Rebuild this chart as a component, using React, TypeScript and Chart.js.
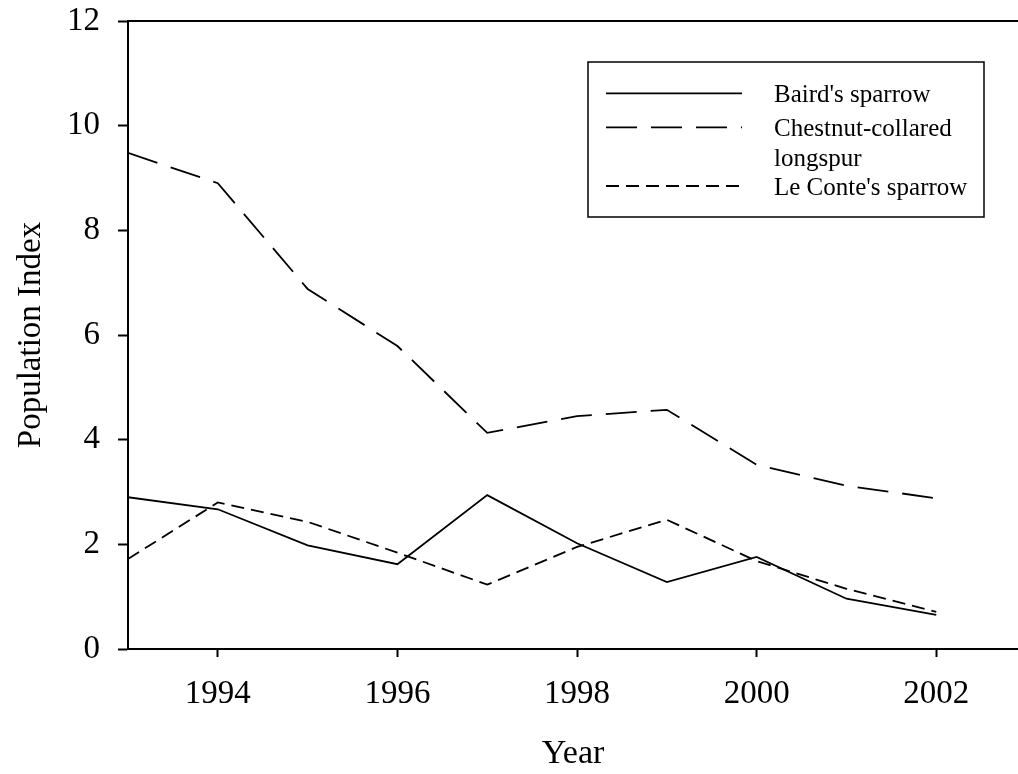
import React, { useEffect, useRef } from 'react';
import { Chart, registerables } from 'chart.js';

Chart.register(...registerables);

const years = [1993, 1994, 1995, 1996, 1997, 1998, 1999, 2000, 2001, 2002];
const bairdsSparrow = [2.90, 2.67, 1.98, 1.62, 2.94, 2.02, 1.28, 1.76, 0.96, 0.65];
const chestnutLongspur = [9.48, 8.90, 6.88, 5.79, 4.13, 4.45, 4.57, 3.52, 3.12, 2.88];
const leContesSparrow = [1.72, 2.80, 2.43, 1.84, 1.23, 1.95, 2.47, 1.68, 1.15, 0.71];
const xTickLabels = [1994, 1996, 1998, 2000, 2002];
const seriesLabels = [["Baird's sparrow"], ['Chestnut-collared', 'longspur'], ["Le Conte's sparrow"]];
const xTitle = 'Year';
const yTitle = 'Population Index';

const FONT = "'Liberation Serif', 'Times New Roman', serif";
const dashes: number[][] = [[], [31, 14], [13, 7]];

const legendPlugin = {
  id: 'customLegend',
  afterDraw(chart: any) {
    const ctx = chart.ctx;
    const area = chart.chartArea;
    ctx.save();
    // top frame line
    ctx.strokeStyle = '#000';
    ctx.lineWidth = 2;
    ctx.beginPath();
    ctx.moveTo(area.left - 1, area.top);
    ctx.lineTo(area.right, area.top);
    ctx.stroke();

    // legend box
    const bx = 588, by = 62, bw = 396, bh = 155;
    ctx.lineWidth = 1.5;
    ctx.strokeRect(bx, by, bw, bh);
    const rows = [93.3, 127.3, 186];
    ctx.font = `25px ${FONT}`;
    ctx.fillStyle = '#000';
    ctx.textAlign = 'left';
    ctx.textBaseline = 'alphabetic';
    seriesLabels.forEach((lines, i) => {
      const y = rows[i];
      ctx.lineWidth = 1.8;
      ctx.setLineDash(dashes[i]);
      ctx.beginPath();
      ctx.moveTo(606, y);
      ctx.lineTo(742, y);
      ctx.stroke();
      ctx.setLineDash([]);
      lines.forEach((t, j) => {
        ctx.fillText(t, 774, y + 8.5 + j * 30);
      });
    });
    ctx.restore();
  },
};

export default function App() {
  const ref = useRef<HTMLCanvasElement>(null);
  useEffect(() => {
    if (!ref.current) return;
    const mk = (label: string, data: number[], dash: number[]) => ({
      label,
      data: years.map((y, i) => ({ x: y, y: data[i] })),
      borderColor: '#000',
      backgroundColor: '#000',
      borderWidth: 1.8,
      borderDash: dash,
      pointRadius: 0,
      tension: 0,
      fill: false,
    });
    const chart = new Chart(ref.current, {
      type: 'line',
      data: {
        datasets: [
          mk(seriesLabels[0].join(' '), bairdsSparrow, dashes[0]),
          mk(seriesLabels[1].join(' '), chestnutLongspur, dashes[1]),
          mk(seriesLabels[2].join(' '), leContesSparrow, dashes[2]),
        ],
      },
      options: {
        responsive: false,
        animation: false,
        layout: { padding: { top: 21, right: 0, left: 0, bottom: 0 } },
        plugins: { legend: { display: false }, tooltip: { enabled: false } },
        scales: {
          x: {
            type: 'linear',
            min: 1993,
            max: 2002.91,
            afterBuildTicks: (scale: any) => {
              scale.ticks = xTickLabels.map((v) => ({ value: v }));
            },
            afterFit: (scale: any) => {
              scale.height = 125;
              scale.paddingLeft = 0;
              scale.paddingRight = 0;
            },
            grid: { drawOnChartArea: false, tickLength: 8, tickColor: '#000', tickWidth: 2 },
            border: { color: '#000', width: 2 },
            ticks: {
              color: '#000',
              padding: 18,
              maxRotation: 0,
              autoSkip: false,
              font: { family: FONT, size: 33 },
              callback: (v: any) => String(v),
            },
            title: {
              display: true,
              text: xTitle,
              color: '#000',
              font: { family: FONT, size: 34 },
              padding: { top: 0, bottom: 0 },
            },
          },
          y: {
            min: 0,
            max: 12,
            afterFit: (scale: any) => {
              scale.width = 128;
              scale.paddingTop = 0;
              scale.paddingBottom = 0;
            },
            grid: { drawOnChartArea: false, tickLength: 10, tickColor: '#000', tickWidth: 2 },
            border: { color: '#000', width: 2 },
            ticks: {
              stepSize: 2,
              color: '#000',
              padding: 18,
              font: { family: FONT, size: 33 },
            },
            title: {
              display: true,
              text: yTitle,
              color: '#000',
              font: { family: FONT, size: 33 },
              padding: { top: 12, bottom: 0 },
            },
          },
        },
      },
      plugins: [legendPlugin],
    });
    return () => chart.destroy();
  }, []);
  return (
    <div style={{ position: 'absolute', left: 0, top: 0, width: 1018, height: 774, background: '#fff' }}>
      <canvas ref={ref} width={1018} height={774} style={{ display: 'block' }} />
    </div>
  );
}
